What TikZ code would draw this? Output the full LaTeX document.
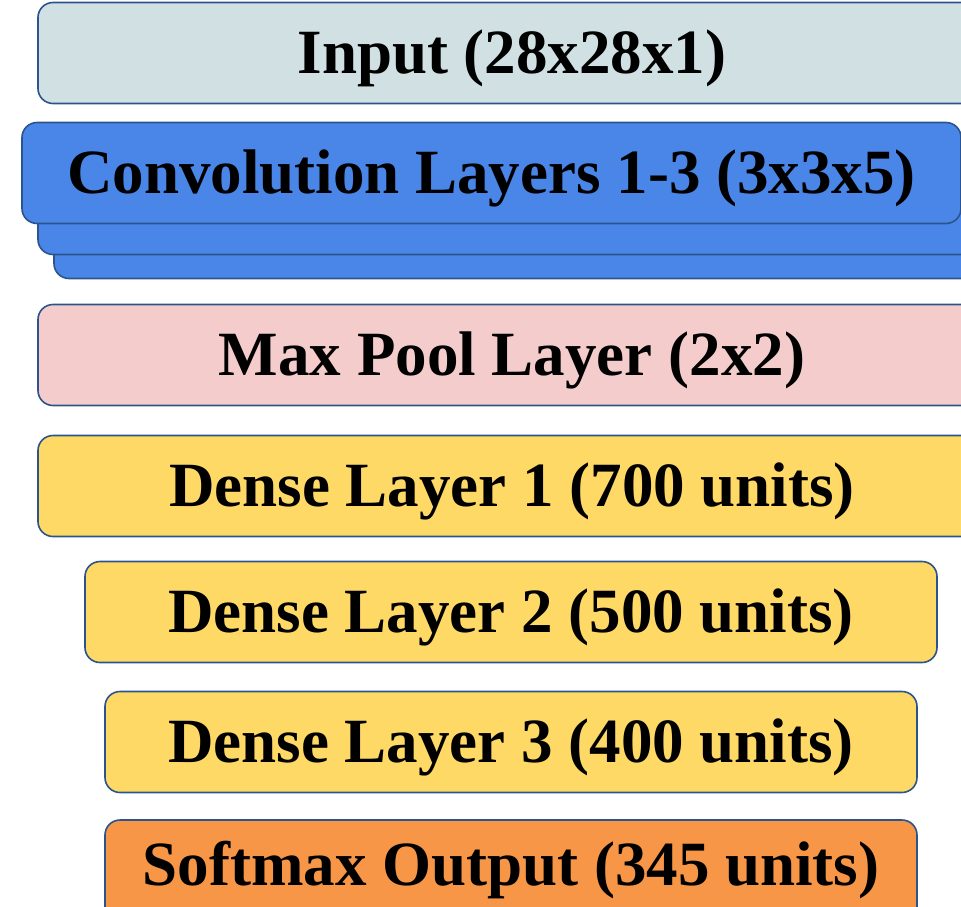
\documentclass[tikz,border=0pt]{standalone}
\usepackage{fontspec}
\setmainfont{Liberation Serif}
\definecolor{edgeblue}{RGB}{44,84,140}
\definecolor{inputfill}{RGB}{208,224,227}
\definecolor{convfill}{RGB}{74,134,232}
\definecolor{poolfill}{RGB}{244,204,204}
\definecolor{densefill}{RGB}{255,217,102}
\definecolor{outfill}{RGB}{247,150,70}

\begin{document}
\begin{tikzpicture}[x=1pt,y=-1pt,
    label text/.style={inner sep=0pt,text height=50pt,text depth=9pt,
      font=\fontsize{63}{70}\selectfont\bfseries},
    layer/.style={label text,draw=edgeblue,line width=1.6pt,rounded corners=15pt,
      minimum height=101pt}]

    \useasboundingbox (0,0) rectangle (961,907);
    \clip (0,0) rectangle (961,907);

    % conv stack, back to front
    \node[layer,fill=convfill,minimum width=939pt] (conv3) at (523.5,228) {};
    \node[layer,fill=convfill,minimum width=939pt] (conv2) at (507.5,204) {};
    \node[layer,fill=convfill,minimum width=939pt] (conv1) at (491.5,173) {Convolution Layers 1-3 (3x3x5)};

    \node[layer,fill=inputfill,minimum width=948pt] (input) at (512,53) {Input (28x28x1)};
    \node[layer,fill=poolfill,minimum width=948pt] (pool) at (512,355) {Max Pool Layer (2x2)};
    \node[layer,fill=densefill,minimum width=948pt] (dense1) at (512,486) {Dense Layer 1 (700 units)};
    \node[layer,fill=densefill,minimum width=852pt] (dense2) at (511,612) {Dense Layer 2 (500 units)};
    \node[layer,fill=densefill,minimum width=812pt] (dense3) at (511,742) {Dense Layer 3 (400 units)};
    \node[layer,fill=outfill,minimum width=812pt,minimum height=120pt] (output) at (511,880) {};
    \node[label text] (outtext) at (511,865) {Softmax Output (345 units)};

\end{tikzpicture}
\end{document}
